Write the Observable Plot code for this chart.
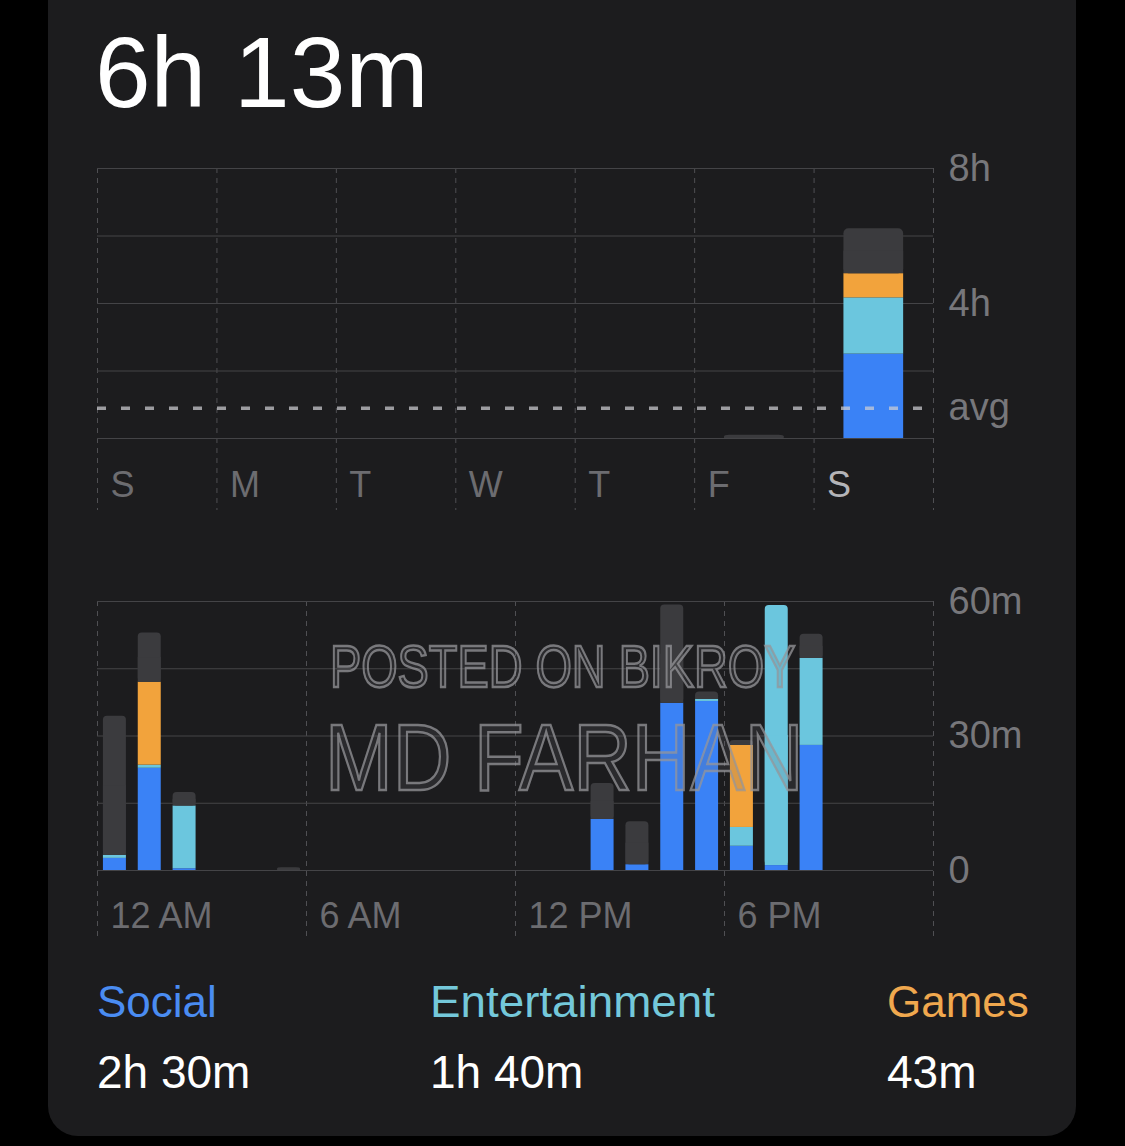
<!DOCTYPE html>
<html><head><meta charset="utf-8">
<script src="https://cdn.jsdelivr.net/npm/d3@7"></script>
<script src="https://cdn.jsdelivr.net/npm/@observablehq/plot@0.6"></script>
<style>
html,body{margin:0;padding:0;background:#000;width:1125px;height:1146px;overflow:hidden;font-family:"Liberation Sans",Arial,sans-serif;}
#card{position:absolute;left:48px;top:-40px;width:1028px;height:1176px;background:#1c1c1e;border-radius:30px;}
.abs{position:absolute;white-space:nowrap;line-height:1;}
#title{left:95px;top:22px;font-size:100px;color:#fff;}
.leg{font-size:44px;top:980px;}
.val{font-size:46px;top:1049px;color:#fff;}
.wm{color:rgba(110,110,114,0.18);-webkit-text-stroke:2.5px rgba(150,150,154,0.75);transform-origin:left top;}
#plot1{position:absolute;left:0;top:140px;}
#plot2{position:absolute;left:0;top:570px;}
</style></head>
<body>
<div id="card"></div>
<div id="plot1"></div>
<div id="plot2"></div>
<div class="abs" id="title">6h 13m</div>
<div class="abs leg" id="l0" style="left:97px;color:#4a8cf2">Social</div>
<div class="abs leg" id="l1" style="left:430px;color:#74c8da;transform:scaleX(1.04);transform-origin:left top">Entertainment</div>
<div class="abs leg" id="l2" style="left:887px;color:#f0a84e">Games</div>
<div class="abs val" id="v0" style="left:97px">2h 30m</div>
<div class="abs val" id="v1" style="left:430px">1h 40m</div>
<div class="abs val" id="v2" style="left:887px">43m</div>
<div class="abs wm" style="left:330px;top:637px;font-size:60px;transform:scaleX(0.78)">POSTED ON BIKROY</div>
<div class="abs wm" style="left:325px;top:710px;font-size:95px;transform:scaleX(0.855)">MD FARHAN</div>
<script>
// ---- data ----
const categories = ["Social", "Entertainment", "Games", "Other"];
const colors = ["#3a82f6", "#6bc6de", "#f2a33c", "#3b3b3e"];

const days = ["S", "M", "T", "W", "T", "F", "S"];
// hours per day
const socialDaily = [0, 0, 0, 0, 0, 0, 2.5];
const entDaily    = [0, 0, 0, 0, 0, 0, 1.667];
const gamesDaily  = [0, 0, 0, 0, 0, 0, 0.717];
const otherDaily  = [0, 0, 0, 0, 0, 0.1, 1.333];
const dailyAvg = 0.9;
const dailyTicks = [4, 8];

const hourLabels = ["12 AM", "6 AM", "12 PM", "6 PM"];
const hourLabelAt = [0, 6, 12, 18];
// minutes per hour (0..23)
const socialHourly = [2.7, 22.8, 0.4, 0, 0, 0, 0, 0, 0, 0, 0, 0, 0, 0, 11.4, 1.3, 37.3, 37.7, 5.4, 1.1, 27.9, 0, 0, 0];
const entHourly    = [0.7, 0.7, 14, 0, 0, 0, 0, 0, 0, 0, 0, 0, 0, 0, 0, 0, 0, 0.5, 4.2, 58, 19.4, 0, 0, 0];
const gamesHourly  = [0, 18.5, 0, 0, 0, 0, 0, 0, 0, 0, 0, 0, 0, 0, 0, 0, 0, 0, 18.3, 0, 0, 0, 0, 0];
const otherHourly  = [31, 11, 3, 0, 0, 0.6, 0, 0, 0, 0, 0, 0, 0, 0, 8, 9.6, 21.9, 1.6, 1.1, 0, 5.4, 0, 0, 0];
const hourlyTicks = [0, 30, 60];

// ---- build stacked rows ----
function stackRows(series) {
  const n = series[0].length, rows = [];
  for (let i = 0; i < n; i++) {
    let y = 0; const segs = [];
    categories.forEach((c, k) => {
      const v = series[k][i];
      if (v > 0) { segs.push({i, cat: c, y1: y, y2: y + v}); y += v; }
    });
    segs.forEach((s, j) => s.top = j === segs.length - 1);
    rows.push(...segs);
  }
  return rows;
}
const weekRows = stackRows([socialDaily, entDaily, gamesDaily, otherDaily]);
const hourRows = stackRows([socialHourly, entHourly, gamesHourly, otherHourly]);

function barMarks(rows, pad, r) {
  const xo = {x1: d => d.i + pad, x2: d => d.i + 1 - pad, fill: "cat"};
  return [
    Plot.rectY(rows.filter(d => !d.top), {...xo, y1: "y1", y2: "y2"}),
    Plot.rectY(rows.filter(d => d.top), {...xo, y1: "y1", y2: "y2", rx: r}),
    Plot.rectY(rows.filter(d => d.top), {...xo, y1: "y1", y2: d => d.y1 + (d.y2 - d.y1) * 0.5})
  ];
}

const font = '"Liberation Sans", Arial, sans-serif';
const gridCol = "#444447";
const vCol = "#4f4f53";

// ---- weekly chart ----
const p1 = Plot.plot({
  width: 1125, height: 380,
  marginLeft: 97, marginRight: 192, marginTop: 28, marginBottom: 10,
  x: {type: "linear", domain: [0, 7], axis: null},
  y: {domain: [0, 8], range: [298, 28], axis: null},
  color: {domain: categories, range: colors},
  style: {background: "transparent", color: "#77777b", fontFamily: font, fontSize: "38px"},
  marks: [
    Plot.gridX(d3.range(0, 8), {stroke: vCol, strokeOpacity: 1, strokeDasharray: "5,5"}),
    Plot.gridY([0, 2, 4, 6, 8], {stroke: gridCol, strokeOpacity: 1}),
    ...barMarks(weekRows, 0.25, 5),
    Plot.ruleY([dailyAvg], {stroke: "#cfcfd3", strokeOpacity: 0.72, strokeWidth: 3.5, strokeDasharray: "9,15"}),
    Plot.axisY(dailyTicks, {anchor: "right", tickSize: 0, tickPadding: 15, tickFormat: d => d + "h", label: null, fontSize: 38}),
    Plot.text(["avg"], {x: 7, y: dailyAvg, dx: 15, textAnchor: "start", fill: "#77777b", fontSize: 38}),
    Plot.text(days, {x: (d, i) => i, y: 0, dx: 13, dy: 47, textAnchor: "start", fontSize: 36,
      fill: (d, i) => i === days.length - 1 ? "#b4b4b8" : "#6c6c70"})
  ]
});
document.getElementById("plot1").append(p1);

// ---- hourly chart ----
const p2 = Plot.plot({
  width: 1125, height: 380,
  marginLeft: 97, marginRight: 192, marginTop: 31, marginBottom: 10,
  x: {type: "linear", domain: [0, 24], axis: null},
  y: {domain: [0, 60], range: [300, 31], axis: null},
  color: {domain: categories, range: colors},
  style: {background: "transparent", color: "#77777b", fontFamily: font, fontSize: "38px"},
  marks: [
    Plot.gridX([0, 6, 12, 18, 24], {stroke: vCol, strokeOpacity: 1, strokeDasharray: "5,5"}),
    Plot.gridY([0, 15, 30, 45, 60], {stroke: gridCol, strokeOpacity: 1}),
    ...barMarks(hourRows, 0.17, 4),
    Plot.axisY(hourlyTicks, {anchor: "right", tickSize: 0, tickPadding: 15, tickFormat: d => d === 0 ? "0" : d + "m", label: null, fontSize: 38}),
    Plot.text(hourLabels, {x: (d, i) => hourLabelAt[i], y: 0, dx: 13, dy: 46, textAnchor: "start", fontSize: 36, fill: "#6c6c70"})
  ]
});
document.getElementById("plot2").append(p2);
</script>
</body></html>
